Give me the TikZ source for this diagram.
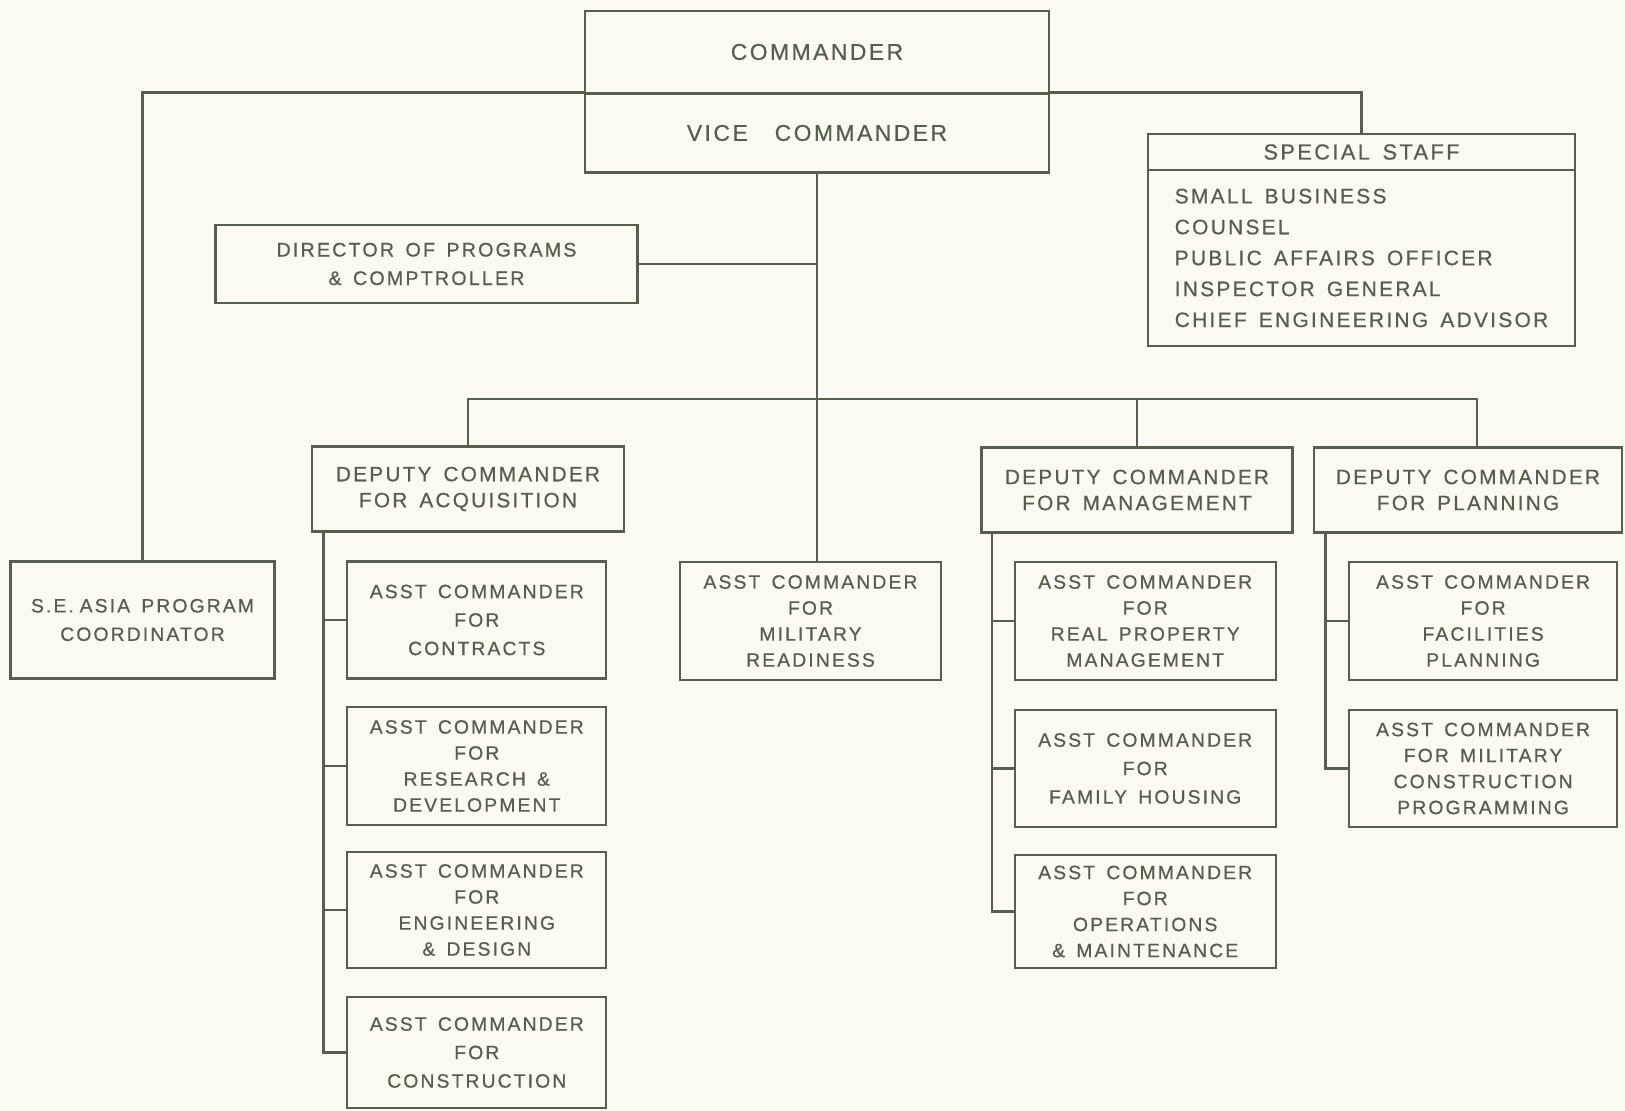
\documentclass[tikz,border=0pt]{standalone}
\usepackage{fontspec}
\newfontfamily\chartfont{Liberation Sans}[LetterSpace=11,WordSpace=1.5,FakeBold=0.6]
\usetikzlibrary{calc}
\definecolor{ink}{RGB}{88,94,78}
\definecolor{paper}{RGB}{250,249,242}
\tikzset{
  unit/.style={draw=ink, line width=1.2pt, text=ink, align=center, inner sep=0pt,
    font=\chartfont\fontsize{11}{14.8}\selectfont},
  roomy/.style={font=\chartfont\fontsize{11}{16.2}\selectfont},
  head/.style={font=\chartfont\fontsize{13}{16}\selectfont},
  deputy/.style={font=\chartfont\fontsize{11.8}{14.8}\selectfont},
  link/.style={draw=ink, line width=1.2pt},
}
\begin{document}
\begin{tikzpicture}[x=0.02cm, y=-0.02cm]
\fill[paper] (0,0) rectangle (1625,1111);
\useasboundingbox (0,0) rectangle (1625,1111);

\node[unit, head, minimum width=9.29cm, minimum height=1.64cm] (cmd) at (817,52) {COMMANDER};
\node[unit, head, minimum width=9.29cm, minimum height=1.58cm] (vice) at (817,133) {VICE\hspace{0.6em} COMMANDER};

\node[unit, font=\chartfont\fontsize{12.4}{14}\selectfont, minimum width=8.54cm, minimum height=0.72cm] (staffhead) at (1361.5,152) {SPECIAL STAFF};
\node[unit, align=left, minimum width=8.54cm, minimum height=3.52cm,
  font=\chartfont\fontsize{11.9}{17.6}\selectfont] (staff) at (1361.5,258)
  {SMALL BUSINESS\\COUNSEL\\PUBLIC AFFAIRS OFFICER\\INSPECTOR GENERAL\\CHIEF ENGINEERING ADVISOR};

\node[unit, font=\chartfont\fontsize{11.2}{16.2}\selectfont, minimum width=8.44cm, minimum height=1.56cm] (dir) at (426.5,264) {DIRECTOR OF PROGRAMS\\\& COMPTROLLER};

\node[unit, deputy, minimum width=6.24cm, minimum height=1.70cm] (acq) at (468,489) {DEPUTY COMMANDER\\FOR ACQUISITION};
\node[unit, deputy, minimum width=6.22cm, minimum height=1.70cm] (mgmt) at (1137,490) {DEPUTY COMMANDER\\FOR MANAGEMENT};
\node[unit, deputy, minimum width=6.16cm, minimum height=1.70cm] (plan) at (1468,490) {DEPUTY COMMANDER\\FOR PLANNING};

\node[unit, roomy, minimum width=5.28cm, minimum height=2.34cm] (sea) at (142.5,620) {S.E.\hspace{0.3em}ASIA PROGRAM\\COORDINATOR};
\node[unit, minimum width=5.22cm, minimum height=2.36cm] (ready) at (810.5,621) {ASST COMMANDER\\FOR\\MILITARY\\READINESS};

\node[unit, roomy, minimum width=5.18cm, minimum height=2.34cm] (contracts) at (476.8,620) {ASST COMMANDER\\FOR\\CONTRACTS};
\node[unit, minimum width=5.18cm, minimum height=2.36cm] (research) at (476.8,766) {ASST COMMANDER\\FOR\\RESEARCH \&\\DEVELOPMENT};
\node[unit, minimum width=5.18cm, minimum height=2.32cm] (engineering) at (476.8,910) {ASST COMMANDER\\FOR\\ENGINEERING\\\& DESIGN};
\node[unit, roomy, minimum width=5.18cm, minimum height=2.22cm] (construction) at (476.8,1052.5) {ASST COMMANDER\\FOR\\CONSTRUCTION};

\node[unit, minimum width=5.22cm, minimum height=2.36cm] (realprop) at (1145.2,621) {ASST COMMANDER\\FOR\\REAL PROPERTY\\MANAGEMENT};
\node[unit, roomy, minimum width=5.22cm, minimum height=2.34cm] (housing) at (1145.2,768.5) {ASST COMMANDER\\FOR\\FAMILY HOUSING};
\node[unit, minimum width=5.22cm, minimum height=2.26cm] (operations) at (1145.2,911.5) {ASST COMMANDER\\FOR\\OPERATIONS\\\& MAINTENANCE};

\node[unit, minimum width=5.35cm, minimum height=2.36cm] (facilities) at (1483.1,621) {ASST COMMANDER\\FOR\\FACILITIES\\PLANNING};
\node[unit, minimum width=5.35cm, minimum height=2.34cm] (milcon) at (1483.1,768.5) {ASST COMMANDER\\FOR MILITARY\\CONSTRUCTION\\PROGRAMMING};

\draw[link] (vice.north west) -| (sea.north);
\draw[link] (vice.north east) -| (staffhead.north);
\draw[link] (vice.south) -- (vice.south |- ready.north);
\draw[link] (dir.east) -- (dir.east -| vice.south);
\coordinate (bus) at (vice.south |- 0,399);
\draw[link] (acq.north) |- (bus) -| ([xshift=0.18cm]plan.north);
\draw[link] (mgmt.north) -- (mgmt.north |- bus);

\coordinate (acqline) at ([xshift=0.25cm]acq.south west);
\draw[link] (acqline) |- (construction.west);
\foreach \b in {contracts,research,engineering}
  \draw[link] (\b.west) -- (\b.west -| acqline);

\coordinate (mgmtline) at ([xshift=0.23cm]mgmt.south west);
\draw[link] (mgmtline) |- (operations.west);
\foreach \b in {realprop,housing}
  \draw[link] (\b.west) -- (\b.west -| mgmtline);

\coordinate (planline) at ([xshift=0.25cm]plan.south west);
\draw[link] (planline) |- (milcon.west);
\draw[link] (facilities.west) -- (facilities.west -| planline);
\end{tikzpicture}
\end{document}
